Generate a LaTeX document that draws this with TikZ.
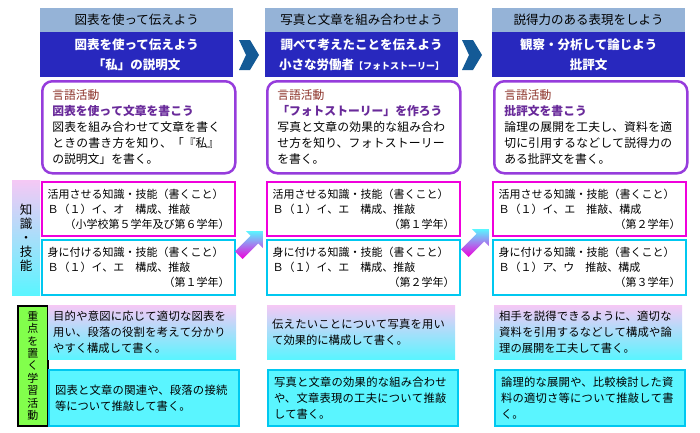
\documentclass[tikz,border=0pt]{standalone}
\usepackage{fontspec}
\setmainfont{Noto Sans CJK JP}
\XeTeXlinebreaklocale "ja"
\XeTeXlinebreakskip=0pt plus 1pt
\usetikzlibrary{shapes.arrows}
\definecolor{hdr}{RGB}{149,179,215}
\definecolor{ttl}{RGB}{40,40,190}
\definecolor{purp}{RGB}{150,60,220}
\definecolor{mag}{RGB}{240,0,220}
\definecolor{cyb}{RGB}{0,200,240}
\definecolor{pk}{RGB}{245,200,245}
\definecolor{cy}{RGB}{90,245,255}
\definecolor{brn}{RGB}{140,50,40}
\definecolor{chev}{RGB}{20,90,150}
\begin{document}
\begin{tikzpicture}[x=1pt,y=-1pt,font=\fontsize{11.3}{16}\selectfont,
 hdrbox/.style={fill=hdr,minimum width=193,minimum height=24,anchor=north west,inner sep=0,font=\fontsize{12.5}{14}\selectfont},
 ttlbox/.style={fill=ttl,text=white,minimum width=193,minimum height=45,anchor=north west,inner sep=0,align=center,font=\fontsize{12.5}{20}\selectfont\bfseries},
 langbox/.style={draw=purp,line width=2.5pt,rounded corners=10pt,fill=white,minimum width=193,minimum height=92,anchor=north west,text width=173,align=left,inner sep=6pt,font=\fontsize{11.8}{16}\selectfont},
 kpink/.style={draw=mag,line width=2pt,fill=white,minimum width=193,minimum height=54,anchor=north west,text width=182,align=left,inner sep=4pt,font=\fontsize{11}{15}\selectfont},
 kcyan/.style={draw=cyb,line width=2pt,fill=white,minimum width=193,minimum height=55,anchor=north west,text width=182,align=left,inner sep=4pt,font=\fontsize{11}{15}\selectfont},
 gpink/.style={top color=pk,bottom color=cy,minimum width=188,minimum height=54,anchor=north west,text width=178,align=left,inner sep=5pt},
 gcyan/.style={draw=cyb,line width=2pt,fill=cy,minimum width=190,minimum height=56,anchor=north west,text width=178,align=left,inner sep=5pt},
 chevron/.style={fill=chev},
 diag/.style={single arrow,top color=cy,bottom color=mag,minimum height=34,minimum width=24,single arrow head extend=4pt,inner sep=3pt}]
\useasboundingbox (0,0) rectangle (700,432);
% column 1
\node[hdrbox] (h1) at (40,8) {図表を使って伝えよう};
\node[ttlbox] (t1) at (40,32) {図表を使って伝えよう\\「私」の説明文};
\node[langbox] (l1) at (41,80) {{\color{brn}言語活動}\\{\color{purp!70!black}\bfseries 図表を使って文章を書こう}\\図表を組み合わせて文章を書くときの書き方を知り、「『私』の説明文」を書く。};
% column 2
\node[hdrbox] (h2) at (265,8) {写真と文章を組み合わせよう};
\node[ttlbox] (t2) at (265,32) {調べて考えたことを伝えよう\\小さな労働者{\fontsize{9}{10}\selectfont【フォトストーリー】}};
\node[langbox] (l2) at (266,80) {{\color{brn}言語活動}\\{\color{purp!70!black}\bfseries 「フォトストーリー」を作ろう}\\写真と文章の効果的な組み合わせ方を知り、フォトストーリーを書く。};
% column 3
\node[hdrbox] (h3) at (492,8) {説得力のある表現をしよう};
\node[ttlbox] (t3) at (492,32) {観察・分析して論じよう\\批評文};
\node[langbox] (l3) at (493,80) {{\color{brn}言語活動}\\{\color{purp!70!black}\bfseries 批評文を書こう}\\論理の展開を工夫し、資料を適切に引用するなどして説得力のある批評文を書く。};
% chevrons
\fill[chevron] (239,40) -- (250,40) -- (259,55) -- (250,70) -- (239,70) -- (246,55) -- cycle;
\fill[chevron] (462,40) -- (473,40) -- (482,55) -- (473,70) -- (462,70) -- (469,55) -- cycle;
% knowledge label
\node[top color=pk,bottom color=cy,minimum width=28,minimum height=115,anchor=north west,inner sep=0,align=center,font=\fontsize{12.5}{14}\selectfont] (kl) at (12,180) {知\\識\\・\\技\\能};
\node[kpink] (k1a) at (41,181) {活用させる知識・技能（書くこと）\\Ｂ（１）イ、オ　構成、推敲\\\hfill（小学校第５学年及び第６学年）};
\node[kcyan] (k1b) at (41,239) {身に付ける知識・技能（書くこと）\\Ｂ（１）イ、エ　構成、推敲\\\hfill（第１学年）};
\node[kpink] (k2a) at (266,181) {活用させる知識・技能（書くこと）\\Ｂ（１）イ、エ　構成、推敲\\\hfill（第１学年）};
\node[kcyan] (k2b) at (266,239) {身に付ける知識・技能（書くこと）\\Ｂ（１）イ、エ　構成、推敲\\\hfill（第２学年）};
\node[kpink] (k3a) at (492,181) {活用させる知識・技能（書くこと）\\Ｂ（１）イ、エ　推敲、構成\\\hfill（第２学年）};
\node[kcyan] (k3b) at (492,239) {身に付ける知識・技能（書くこと）\\Ｂ（１）ア、ウ　推敲、構成\\\hfill（第３学年）};
\node[diag,rotate=45] (a1) at (249,245) {};
\node[diag,rotate=45] (a2) at (475,243) {};
% learning activities
\node[draw=black,line width=1.5pt,fill=green!60!lime!70,minimum width=30,minimum height=120,anchor=north west,inner sep=0,align=center,font=\fontsize{11}{12.4}\selectfont] (gl) at (17,305) {重\\点\\を\\置\\く\\学\\習\\活\\動};
\node[gpink] (g1a) at (48,305) {目的や意図に応じて適切な図表を用い、段落の役割を考えて分かりやすく構成して書く。};
\node[gcyan] (g1b) at (48,369) {図表と文章の関連や、段落の接続等について推敲して書く。};
\node[gpink] (g2a) at (267,305) {伝えたいことについて写真を用いて効果的に構成して書く。};
\node[gcyan] (g2b) at (267,369) {写真と文章の効果的な組み合わせや、文章表現の工夫について推敲して書く。};
\node[gpink] (g3a) at (494,305) {相手を説得できるように、適切な資料を引用するなどして構成や論理の展開を工夫して書く。};
\node[gcyan] (g3b) at (494,369) {論理的な展開や、比較検討した資料の適切さ等について推敲して書く。};
\end{tikzpicture}
\end{document}
